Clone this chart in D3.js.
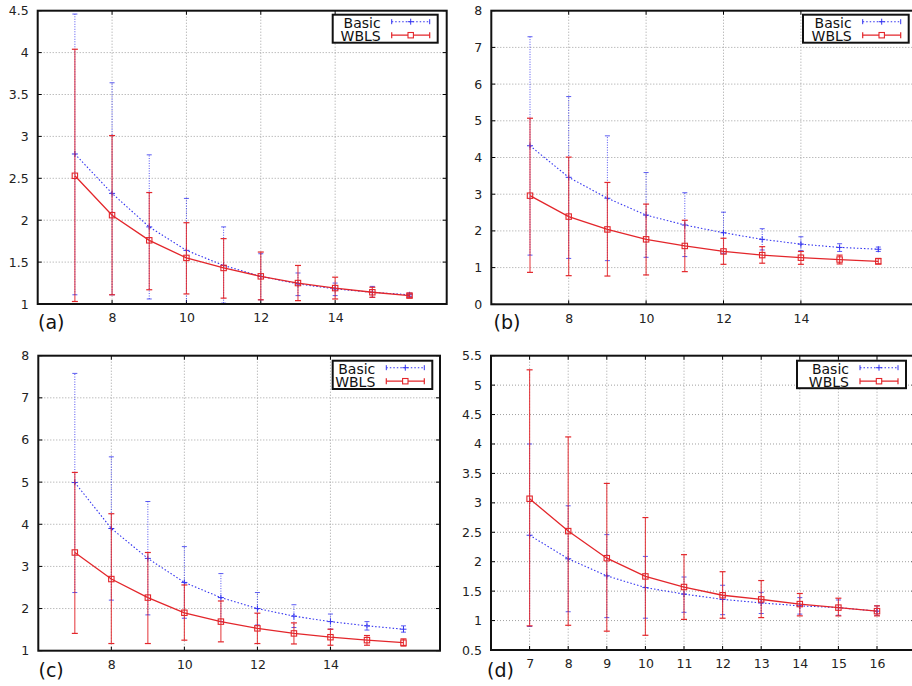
<!DOCTYPE html>
<html><head><meta charset="utf-8">
<script src="https://cdn.jsdelivr.net/npm/d3@7"></script>
<style>body{margin:0;background:#fff} svg{display:block} text{font-family:"DejaVu Sans",sans-serif}</style>
</head><body><svg id="chart" width="912" height="686"></svg>
<script>
// ---------- data ----------
const xValues = [7, 8, 9, 10, 11, 12, 13, 14, 15, 16];
const seriesNames = ["Basic", "WBLS"];
const panelLabels = ["(a)", "(b)", "(c)", "(d)"];
const xTicksABC = [8, 10, 12, 14];
const xTicksD = [7, 8, 9, 10, 11, 12, 13, 14, 15, 16];
const yTicksA = [1, 1.5, 2, 2.5, 3, 3.5, 4, 4.5];
const yTicksB = [0, 1, 2, 3, 4, 5, 6, 7, 8];
const yTicksC = [1, 2, 3, 4, 5, 6, 7, 8];
const yTicksD = [0.5, 1, 1.5, 2, 2.5, 3, 3.5, 4, 4.5, 5, 5.5];

// panel (a)
const aBasicMean = [2.79, 2.32, 1.92, 1.64, 1.46, 1.33, 1.24, 1.18, 1.14, 1.11];
const aBasicLow  = [1.11, 1.11, 1.06, 1.00, 1.01, 1.05, 1.10, 1.10, 1.08, 1.09];
const aBasicHigh = [4.46, 3.64, 2.78, 2.26, 1.92, 1.60, 1.37, 1.25, 1.21, 1.13];
const aWblsMean  = [2.53, 2.06, 1.76, 1.55, 1.43, 1.33, 1.25, 1.19, 1.14, 1.10];
const aWblsLow   = [1.03, 1.11, 1.17, 1.12, 1.07, 1.05, 1.04, 1.06, 1.08, 1.08];
const aWblsHigh  = [4.04, 3.01, 2.33, 1.97, 1.78, 1.62, 1.46, 1.32, 1.20, 1.12];
// panel (b)
const bBasicMean = [4.32, 3.46, 2.89, 2.43, 2.16, 1.95, 1.77, 1.64, 1.55, 1.50];
const bBasicLow  = [1.34, 1.25, 1.19, 1.28, 1.30, 1.39, 1.48, 1.46, 1.44, 1.44];
const bBasicHigh = [7.29, 5.66, 4.59, 3.59, 3.04, 2.51, 2.06, 1.84, 1.65, 1.56];
const bWblsMean  = [2.96, 2.39, 2.04, 1.77, 1.59, 1.44, 1.34, 1.27, 1.22, 1.17];
const bWblsLow   = [0.87, 0.78, 0.77, 0.80, 0.89, 1.09, 1.12, 1.09, 1.10, 1.10];
const bWblsHigh  = [5.07, 4.01, 3.32, 2.73, 2.29, 1.80, 1.57, 1.44, 1.34, 1.25];
// panel (c)
const cBasicMean = [4.99, 3.90, 3.19, 2.62, 2.26, 2.00, 1.82, 1.69, 1.59, 1.51];
const cBasicLow  = [2.38, 2.20, 1.85, 1.77, 1.69, 1.61, 1.55, 1.51, 1.49, 1.44];
const cBasicHigh = [7.58, 5.60, 4.54, 3.47, 2.83, 2.38, 2.09, 1.87, 1.69, 1.59];
const cWblsMean  = [3.33, 2.70, 2.26, 1.90, 1.69, 1.53, 1.41, 1.32, 1.25, 1.19];
const cWblsLow   = [1.41, 1.17, 1.17, 1.25, 1.21, 1.17, 1.16, 1.13, 1.13, 1.11];
const cWblsHigh  = [5.23, 4.25, 3.33, 2.56, 2.18, 1.89, 1.66, 1.51, 1.36, 1.28];
// panel (d)
const dBasicMean = [2.45, 2.05, 1.76, 1.56, 1.45, 1.36, 1.30, 1.25, 1.22, 1.16];
const dBasicLow  = [0.90, 1.15, 1.05, 1.04, 1.14, 1.10, 1.12, 1.11, 1.09, 1.09];
const dBasicHigh = [4.00, 2.95, 2.46, 2.09, 1.74, 1.60, 1.48, 1.39, 1.35, 1.25];
const dWblsMean  = [3.07, 2.52, 2.06, 1.75, 1.57, 1.43, 1.36, 1.28, 1.22, 1.16];
const dWblsLow   = [0.91, 0.92, 0.82, 0.75, 1.02, 1.04, 1.05, 1.08, 1.08, 1.08];
const dWblsHigh  = [5.26, 4.12, 3.33, 2.75, 2.12, 1.83, 1.68, 1.46, 1.38, 1.25];

// ---------- layout ----------
const svg = d3.select("#chart");
const BLUE = "#3434f0", RED = "#e3262b";

const panels = [
  {box:[37.7, 446.7, 10.7, 304], yDomain:[1, 4.5], yTicks:yTicksA, xTicks:xTicksABC,
   basic:[aBasicMean, aBasicLow, aBasicHigh], wbls:[aWblsMean, aWblsLow, aWblsHigh],
   label:panelLabels[0], lab:[38, 329], legend:[332.7, 14.7, 105, 28]},
  {box:[491.3, 917, 10.7, 304.3], yDomain:[0, 8], yTicks:yTicksB, xTicks:xTicksABC,
   basic:[bBasicMean, bBasicLow, bBasicHigh], wbls:[bWblsMean, bWblsLow, bWblsHigh],
   label:panelLabels[1], lab:[493.5, 329], legend:[803, 14.7, 105.7, 28]},
  {box:[38.3, 440, 355.7, 650.7], yDomain:[1, 8], yTicks:yTicksC, xTicks:xTicksABC,
   basic:[cBasicMean, cBasicLow, cBasicHigh], wbls:[cWblsMean, cWblsLow, cWblsHigh],
   label:panelLabels[2], lab:[38.5, 677], legend:[332.7, 360.7, 99.6, 28.3]},
  {box:[491, 915.6, 355.7, 650], yDomain:[0.5, 5.5], yTicks:yTicksD, xTicks:xTicksD,
   basic:[dBasicMean, dBasicLow, dBasicHigh], wbls:[dWblsMean, dWblsLow, dWblsHigh],
   label:panelLabels[3], lab:[487, 677], legend:[797, 360.7, 109, 27.5]}
];

function drawPanel(p) {
  const [L, R, T, B] = p.box;
  const x = d3.scaleLinear().domain([6, 17]).range([L, R]);
  const y = d3.scaleLinear().domain(p.yDomain).range([B, T]);
  const g = svg.append("g");

  // grid
  g.selectAll(".gx").data(p.xTicks).join("line")
    .attr("x1", d => x(d)).attr("x2", d => x(d)).attr("y1", T).attr("y2", B)
    .attr("stroke", "#a0a0a0").attr("stroke-width", 1).attr("stroke-dasharray", "1,2");
  g.selectAll(".gy").data(p.yTicks.filter(v => v !== p.yDomain[0] && v !== p.yDomain[1])).join("line")
    .attr("x1", L).attr("x2", R).attr("y1", d => y(d)).attr("y2", d => y(d))
    .attr("stroke", "#a0a0a0").attr("stroke-width", 1).attr("stroke-dasharray", "1,2");

  // axis labels
  const ay = g.append("g").attr("transform", `translate(${L},0)`)
    .call(d3.axisLeft(y).tickValues(p.yTicks).tickSize(0).tickPadding(9).tickFormat(d => String(d)));
  ay.select(".domain").remove();
  ay.selectAll("text").attr("font-size", 12.5).attr("fill", "#222").attr("font-family", "DejaVu Sans, sans-serif");
  const ax = g.append("g").attr("transform", `translate(0,${B})`)
    .call(d3.axisBottom(x).tickValues(p.xTicks).tickSize(0).tickPadding(9.5).tickFormat(d => String(d)));
  ax.select(".domain").remove();
  ax.selectAll("text").attr("font-size", 12.5).attr("fill", "#222").attr("font-family", "DejaVu Sans, sans-serif");

  // inward ticks
  p.xTicks.forEach(v => {
    g.append("line").attr("x1", x(v)).attr("x2", x(v)).attr("y1", B).attr("y2", B - 4).attr("stroke", "#000");
    g.append("line").attr("x1", x(v)).attr("x2", x(v)).attr("y1", T).attr("y2", T + 4).attr("stroke", "#000");
  });
  p.yTicks.forEach(v => {
    g.append("line").attr("x1", L).attr("x2", L + 4).attr("y1", y(v)).attr("y2", y(v)).attr("stroke", "#000");
    g.append("line").attr("x1", R).attr("x2", R - 4).attr("y1", y(v)).attr("y2", y(v)).attr("stroke", "#000");
  });

  const line = d3.line().x((d, i) => x(xValues[i])).y(d => y(d));

  // Basic series
  const [bm, bl, bh] = p.basic;
  const gb = g.append("g");
  xValues.forEach((xv, i) => {
    const cx = x(xv);
    gb.append("line").attr("x1", cx).attr("x2", cx).attr("y1", y(bl[i])).attr("y2", y(bh[i]))
      .attr("stroke", BLUE).attr("stroke-width", 1).attr("stroke-dasharray", "1,1.5").attr("opacity", 0.85);
    [bl[i], bh[i]].forEach(v => gb.append("line").attr("x1", cx - 2.5).attr("x2", cx + 2.5)
      .attr("y1", y(v)).attr("y2", y(v)).attr("stroke", BLUE).attr("stroke-width", 1).attr("opacity", 0.8));
  });
  gb.append("path").datum(bm).attr("d", line).attr("fill", "none").attr("stroke", BLUE)
    .attr("stroke-width", 1.1).attr("stroke-dasharray", "1.5,2");
  xValues.forEach((xv, i) => {
    const cx = x(xv), cy = y(bm[i]);
    gb.append("path").attr("d", `M${cx - 3},${cy}H${cx + 3}M${cx},${cy - 3}V${cy + 3}`)
      .attr("stroke", BLUE).attr("stroke-width", 1);
  });

  // WBLS series
  const [wm, wl, wh] = p.wbls;
  const gw = g.append("g");
  xValues.forEach((xv, i) => {
    const cx = x(xv);
    gw.append("line").attr("x1", cx).attr("x2", cx).attr("y1", y(wl[i])).attr("y2", y(wh[i]))
      .attr("stroke", RED).attr("stroke-width", 1.1).attr("opacity", 0.85);
    [wl[i], wh[i]].forEach(v => gw.append("line").attr("x1", cx - 3).attr("x2", cx + 3)
      .attr("y1", y(v)).attr("y2", y(v)).attr("stroke", RED).attr("stroke-width", 1.2));
  });
  gw.append("path").datum(wm).attr("d", line).attr("fill", "none").attr("stroke", RED).attr("stroke-width", 1.3);
  xValues.forEach((xv, i) => {
    gw.append("rect").attr("x", x(xv) - 2.7).attr("y", y(wm[i]) - 2.7).attr("width", 5.4).attr("height", 5.4)
      .attr("fill", "none").attr("stroke", RED).attr("stroke-width", 1.1);
  });

  // frame
  g.append("rect").attr("x", L).attr("y", T).attr("width", R - L).attr("height", B - T)
    .attr("fill", "none").attr("stroke", "#111").attr("stroke-width", 2);

  // legend
  const [lx, ly, lw, lh] = p.legend;
  const lg = g.append("g");
  lg.append("rect").attr("x", lx).attr("y", ly).attr("width", lw).attr("height", lh)
    .attr("fill", "#fff").attr("stroke", "#111").attr("stroke-width", 2);
  const s0 = lx + lw - 46, s1 = lx + lw - 8, r1 = ly + 7, r2 = ly + 20.5;
  lg.append("text").attr("x", s0 - 11).attr("y", ly + 13).attr("text-anchor", "end")
    .attr("font-size", 14).attr("fill", "#111").text(seriesNames[0]);
  lg.append("text").attr("x", s0 - 11).attr("y", ly + 26).attr("text-anchor", "end")
    .attr("font-size", 14).attr("fill", "#111").text(seriesNames[1]);
  lg.append("line").attr("x1", s0).attr("x2", s1).attr("y1", r1).attr("y2", r1)
    .attr("stroke", BLUE).attr("stroke-dasharray", "1.5,2").attr("stroke-width", 1.1);
  [s0, s1].forEach(v => lg.append("line").attr("x1", v).attr("x2", v).attr("y1", r1 - 2.5).attr("y2", r1 + 2.5)
    .attr("stroke", BLUE).attr("stroke-width", 1));
  const mb = (s0 + s1) / 2;
  lg.append("path").attr("d", `M${mb - 3},${r1}H${mb + 3}M${mb},${r1 - 3}V${r1 + 3}`).attr("stroke", BLUE);
  lg.append("line").attr("x1", s0).attr("x2", s1).attr("y1", r2).attr("y2", r2)
    .attr("stroke", RED).attr("stroke-width", 1.3);
  [s0, s1].forEach(v => lg.append("line").attr("x1", v).attr("x2", v).attr("y1", r2 - 3).attr("y2", r2 + 3)
    .attr("stroke", RED).attr("stroke-width", 1.2));
  lg.append("rect").attr("x", mb - 2.7).attr("y", r2 - 2.7).attr("width", 5.4).attr("height", 5.4)
    .attr("fill", "#fff").attr("stroke", RED).attr("stroke-width", 1.1);

  // panel label
  g.append("text").attr("x", p.lab[0]).attr("y", p.lab[1]).attr("font-size", 19).attr("fill", "#111").text(p.label);
}

panels.forEach(drawPanel);
</script></body></html>
